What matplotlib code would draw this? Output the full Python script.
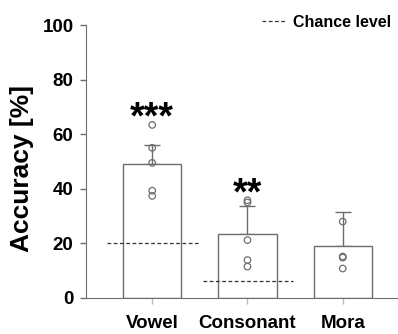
import numpy as np
import matplotlib.pyplot as plt
from matplotlib.lines import Line2D

plt.rcParams['font.family'] = ['Liberation Sans', 'DejaVu Sans']
plt.rcParams['font.weight'] = 'bold'

# data
categories = ['Vowel', 'Consonant', 'Mora']
means = [49, 23.5, 19.2]
sds = [7, 10.3, 12.3]
chance = [20, 6.25, None]
points = [
    [63.4, 55, 49.5, 39.3, 37.4],
    [35.8, 35.0, 21.2, 13.9, 11.5],
    [28, 15.2, 14.8, 10.8],
]
stars = ['***', '**', '']
yticks = [0, 20, 40, 60, 80, 100]

grey = '#6e6e6e'
fig = plt.figure(figsize=(3.98, 3.34), dpi=100)
ax = fig.add_axes([86/398, 1-298/334, 1-86/398, (298-25)/334])

x = np.arange(len(categories))
ax.bar(x, means, width=0.61, color='white', edgecolor=grey, linewidth=1.0, zorder=2)
ax.errorbar(x, means, yerr=[np.zeros(len(sds)), sds], fmt='none', ecolor=grey,
            elinewidth=1.0, capsize=6, capthick=1.0, zorder=1)

for i, pts in enumerate(points):
    ax.scatter(np.full(len(pts), x[i]), pts, s=22, facecolor='none',
               edgecolor=grey, linewidth=0.9, zorder=3)

for i, c in enumerate(chance):
    if c is not None:
        ax.plot([x[i]-0.47, x[i]+0.48], [c, c], color='#333333', lw=0.9,
                ls=(0, (3, 2)), zorder=4)

for i, s in enumerate(stars):
    if s:
        ax.text(x[i], max(points[i]) + 2.2, s, ha='center', va='center',
                fontsize=27, fontweight='bold')

ax.set_xlim(-0.695, 2.58)
ax.set_ylim(0, 100)
ax.set_yticks(yticks)
ax.set_xticks(x)
ax.set_xticklabels(categories, fontsize=13.5, fontweight='bold')
ax.tick_params(axis='y', labelsize=13.5, length=4, width=1, color=grey, pad=5)
ax.tick_params(axis='x', length=4, width=1, color='#bbbbbb', pad=8)
for lab in ax.get_yticklabels():
    lab.set_fontweight('bold')
ax.spines['top'].set_visible(False)
ax.spines['right'].set_visible(False)
ax.spines['left'].set_color(grey)
ax.spines['bottom'].set_color(grey)
ax.set_ylabel('Accuracy [%]', fontsize=19, fontweight='bold', labelpad=6)
ax.yaxis.label.set_y(0.475)

handle = Line2D([], [], color='#333333', lw=0.9, ls=(0, (3, 2)))
ax.legend([handle], ['Chance level'], loc='upper right', frameon=False,
          prop={'weight': 'bold', 'size': 11.5}, handlelength=1.6,
          handletextpad=0.4, bbox_to_anchor=(1.0, 1.06), borderaxespad=0)

fig.savefig('out.png', dpi=100)
